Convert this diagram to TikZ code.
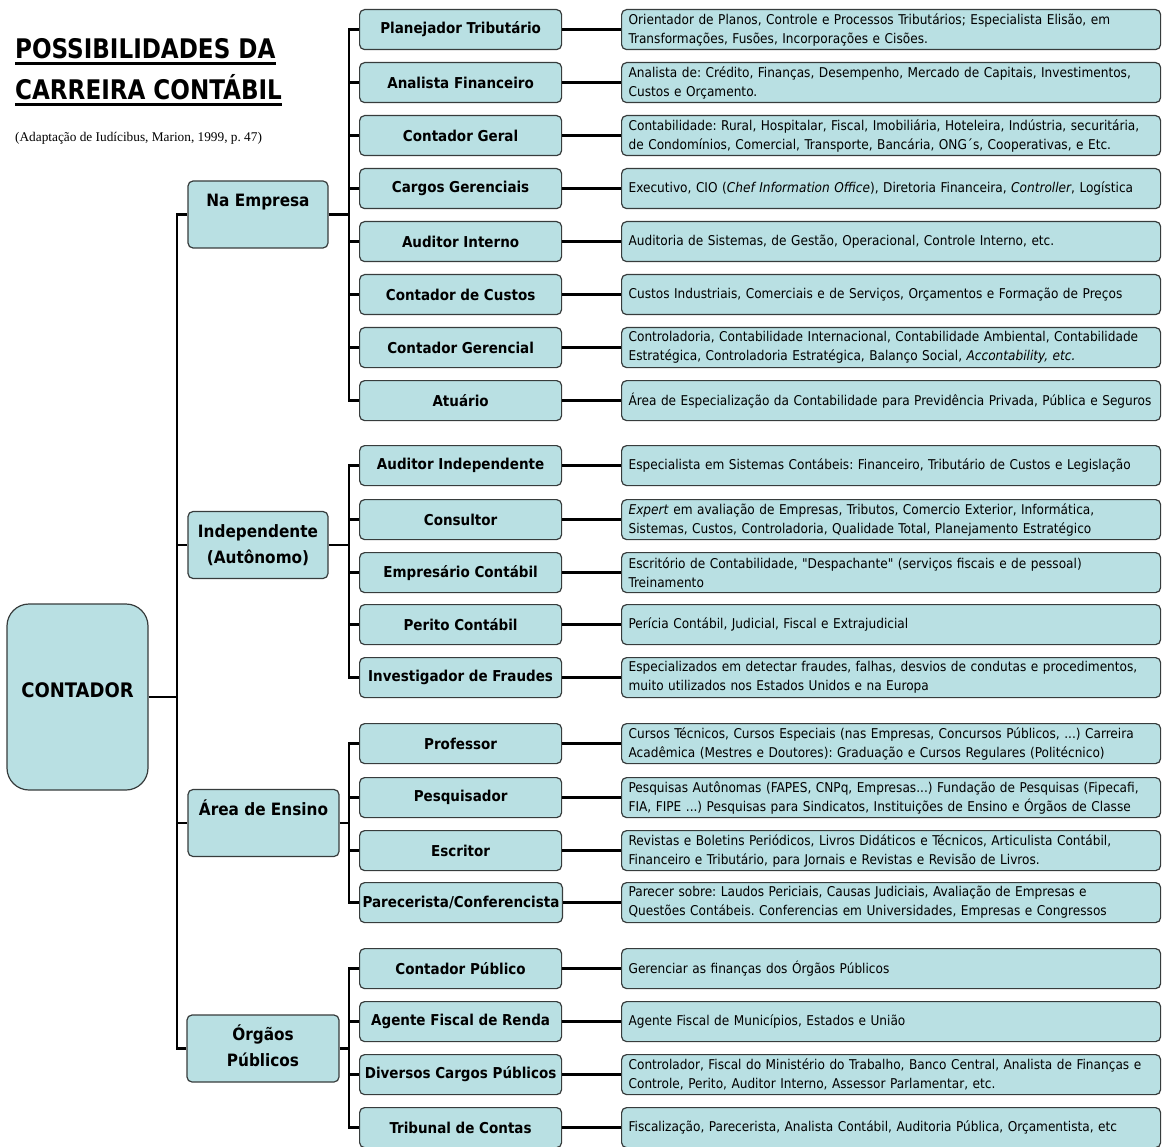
\documentclass[tikz,border=0pt]{standalone}
\usepackage{fontspec}
\setmainfont{DejaVu Sans Condensed}[Ligatures=TeXOff]
\newfontfamily\citacao{Liberation Serif}
\usetikzlibrary{positioning}
\definecolor{caixa}{RGB}{185,224,227}
\definecolor{borda}{RGB}{55,60,60}
\frenchspacing
\begin{document}
\begin{tikzpicture}
[x=1pt,y=-1pt,
  boxdecorate/.style={draw=borda,fill=caixa,line width=1.2pt,rounded corners=5pt,inner sep=3pt},
  rootdecorate/.style={boxdecorate,rounded corners=22pt,minimum width=141pt,
    minimum height=186pt,text depth=14pt,font=\fontsize{20}{24}\selectfont\bfseries},
  areadecorate/.style={boxdecorate,minimum height=67pt,align=center,
    font=\fontsize{17}{26}\selectfont\bfseries},
  cargodecorate/.style={boxdecorate,anchor=north west,minimum width=202pt,
    minimum height=40pt,font=\fontsize{15}{18}\selectfont\bfseries},
  detaildecorate/.style={boxdecorate,anchor=north west,minimum height=40pt,
    text width=525pt,inner xsep=7pt,align=left,font=\fontsize{13.5}{19}\selectfont},
  titledecorate/.style={anchor=base west,inner sep=0pt,xscale=0.95,transform shape,
    font=\fontsize{27}{30}\selectfont\bfseries},
  linedecorate/.style={-,line width=2.6pt},
  trunkdecorate/.style={linedecorate,line cap=rect}]
\useasboundingbox (0,0) rectangle (1164,1147);
%% title
\node (titulo1) [titledecorate] at (15,59) {POSSIBILIDADES DA};
\node (titulo2) [titledecorate] at (15,100) {CARREIRA CONTÁBIL};
\draw[line width=2.6pt] ([yshift=-4.5pt]titulo1.base west) -- ([yshift=-4.5pt]titulo1.base east);
\draw[line width=2.6pt] ([yshift=-4.5pt]titulo2.base west) -- ([yshift=-4.5pt]titulo2.base east);
\node (fonte) [anchor=base west,inner sep=0pt,font=\citacao\fontsize{13.3}{15}\selectfont]
  at (15,142) {(Adaptação de Iudícibus, Marion, 1999, p. 47)};
%% root and areas
\coordinate (tronco) at (177,0);
\coordinate (ramo) at (349,0);
\node (contador) [rootdecorate] at (77.5,697) {CONTADOR};
\foreach \nome/\x/\y/\largura/\texto in {empresa/258/214.5/140/{\strut Na Empresa\\\strut},
  autonomo/258/545/140/{\strut Independente\\\strut(Autônomo)},
  ensino/263.5/823/151/{\strut Área de Ensino\\\strut},
  orgaos/263/1048.5/152/{\strut Órgãos\\\strut Públicos}} {
  \node (\nome) [areadecorate,minimum width=\largura] at (\x,\y) {\texto};
  \draw[linedecorate] (tronco |- \nome.west) -- (\nome.west);
  \draw[linedecorate] (\nome.east) -- (\nome.east -| ramo);
}
\draw[linedecorate] (contador.east) -- (contador.east -| tronco);
\draw[trunkdecorate] (tronco |- empresa.west) -- (tronco |- orgaos.west);
%% careers and details
\foreach \nome/\topo/\cargo/\detalhe in {
  planejador/9/{Planejador Tributário}/{Orientador de Planos, Controle e Processos Tributários; Especialista Elisão, em\\Transformações, Fusões, Incorporações e Cisões.},
  analista/62/{Analista Financeiro}/{Analista de: Crédito, Finanças, Desempenho, Mercado de Capitais, Investimentos,\\Custos e Orçamento.},
  geral/115/{Contador Geral}/{Contabilidade: Rural, Hospitalar, Fiscal, Imobiliária, Hoteleira, Indústria, securitária,\\de Condomínios, Comercial, Transporte, Bancária, ONG´s, Cooperativas, e Etc.},
  gerenciais/168/{Cargos Gerenciais}/{Executivo, CIO (\textit{Chef Information Office}), Diretoria Financeira, \textit{Controller}, Logística},
  interno/221/{Auditor Interno}/{Auditoria de Sistemas, de Gestão, Operacional, Controle Interno, etc.},
  custos/274/{Contador de Custos}/{Custos Industriais, Comerciais e de Serviços, Orçamentos e Formação de Preços},
  gerencial/327/{Contador Gerencial}/{Controladoria, Contabilidade Internacional, Contabilidade Ambiental, Contabilidade\\Estratégica, Controladoria Estratégica, Balanço Social, \textit{Accontability, etc.}},
  atuario/380/{Atuário}/{Área de Especialização da Contabilidade para Previdência Privada, Pública e Seguros},
  independente/445/{Auditor Independente}/{Especialista em Sistemas Contábeis: Financeiro, Tributário de Custos e Legislação},
  consultor/499/{Consultor}/{\textit{Expert} em avaliação de Empresas, Tributos, Comercio Exterior, Informática,\\Sistemas, Custos, Controladoria, Qualidade Total, Planejamento Estratégico},
  empresario/552/{Empresário Contábil}/{Escritório de Contabilidade, "Despachante" (serviços fiscais e de pessoal)\\Treinamento},
  perito/604/{Perito Contábil}/{Perícia Contábil, Judicial, Fiscal e Extrajudicial},
  investigador/657/{Investigador de Fraudes}/{Especializados em detectar fraudes, falhas, desvios de condutas e procedimentos,\\muito utilizados nos Estados Unidos e na Europa},
  professor/723/{Professor}/{Cursos Técnicos, Cursos Especiais (nas Empresas, Concursos Públicos, ...) Carreira\\Acadêmica (Mestres e Doutores): Graduação e Cursos Regulares (Politécnico)},
  pesquisador/777/{Pesquisador}/{Pesquisas Autônomas (FAPES, CNPq, Empresas...) Fundação de Pesquisas (Fipecafi,\\FIA, FIPE ...) Pesquisas para Sindicatos, Instituições de Ensino e Órgãos de Classe},
  escritor/830/{Escritor}/{Revistas e Boletins Periódicos, Livros Didáticos e Técnicos, Articulista Contábil,\\Financeiro e Tributário, para Jornais e Revistas e Revisão de Livros.},
  parecerista/882/{Parecerista/Conferencista}/{Parecer sobre: Laudos Periciais, Causas Judiciais, Avaliação de Empresas e\\Questões Contábeis. Conferencias em Universidades, Empresas e Congressos},
  publico/948/{Contador Público}/{Gerenciar as finanças dos Órgãos Públicos},
  agente/1001/{Agente Fiscal de Renda}/{Agente Fiscal de Municípios, Estados e União},
  diversos/1054/{Diversos Cargos Públicos}/{Controlador, Fiscal do Ministério do Trabalho, Banco Central, Analista de Finanças e\\Controle, Perito, Auditor Interno, Assessor Parlamentar, etc.},
  tribunal/1107/{Tribunal de Contas}/{Fiscalização, Parecerista, Analista Contábil, Auditoria Pública, Orçamentista, etc}} {
  \node (\nome) [cargodecorate] at (359,\topo) {\cargo};
  \node (\nome-d) [detaildecorate] at (621,\topo) {\detalhe};
  \draw[linedecorate] (\nome.east) -- (\nome.east -| \nome-d.west);
  \draw[linedecorate] (ramo |- \nome.west) -- (\nome.west);
}
%% branches
\foreach \primeiro/\ultimo in {planejador/atuario, independente/investigador,
  professor/parecerista, publico/tribunal} {
  \draw[trunkdecorate] (ramo |- \primeiro.west) -- (ramo |- \ultimo.west);
}
\end{tikzpicture}
\end{document}
